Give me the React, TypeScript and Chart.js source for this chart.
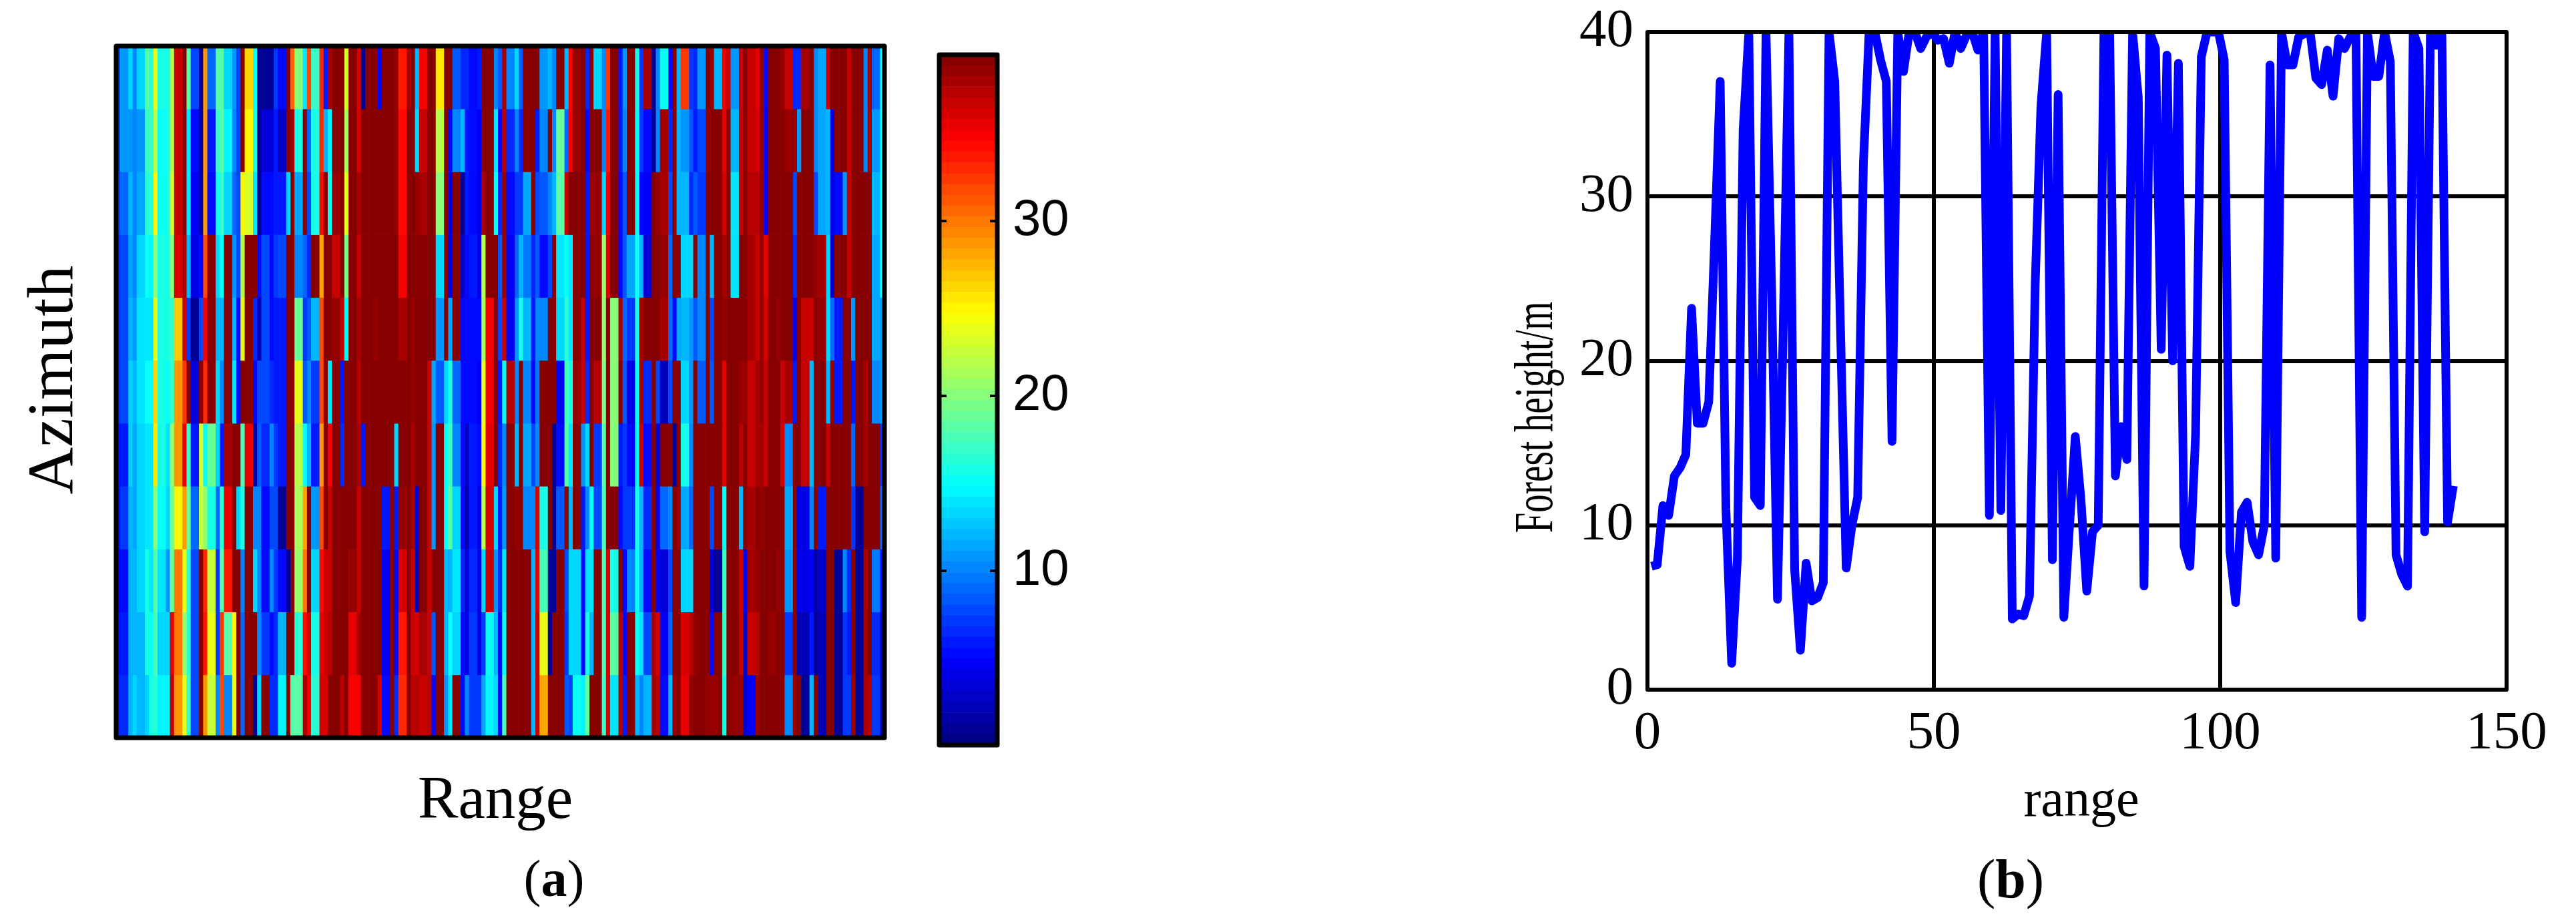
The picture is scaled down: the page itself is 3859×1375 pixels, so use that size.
import React, { useEffect, useRef } from 'react';
import { Chart, registerables } from 'chart.js';

Chart.register(...registerables);

const SERIF = '"Liberation Serif"';
const SANS = '"Liberation Sans"';

// heat values per azimuth row, 185 range cells each
const row01 = [
  8,11,11,13,10,13,13,18,16.5,24, 15.5,15.5,16,22,37,37,39,18,7.5,7.5, 1,29,9,9,18,18,13,13,11,7.5,
  39,26,26,15,1,1,1,1,7,5, 5,39,30.5,20,20,14,32,17,17,33, 6,38,39,39,39,23,39,39,36,1,
  39,39,39,5,39,39,39,38.5,33.5,33.5, 38,39,12,35,35,39,39,25.5,25.5,39, 39,8.5,8.5,6.5,6.5,5.5,5.5,6,39,39,
  39,10,8.5,38,10,10,13,8.5,39,39, 39,39,11,11,12,10,39,39,12,35, 38.5,38.5,39,6.5,39,13,13,10,32.5,39,
  39,6,11,39,39,15.5,7,38,38,1, 10,15,15,5,39,12,32.5,32.5,7,6.5, 11,11,39,38.5,12,12,35.5,37,11,11,
  37,39,36.5,36.5,35.5,38.5,5,39,39,39, 38.5,37,37,6.5,6.5,38,38,39,10,11.5, 11.5,37,39,39,39,39,37,39,39,39, 10,38,9,9,15,
];
const row02 = [
  8,11,11,11,10,11,11,17,17,22, 15,15,16,22,36.5,36.5,39,14,5,5, 1.5,29,6,6,17,18,14.5,14.5,10,7.5,
  39,25,25,15.5,1,3.5,3.5,3.5,6,3, 3,39,38,15.5,15.5,39,9,15.5,15.5,33, 12,14.5,39,39,39,21.5,39,39,36,39,
  39,39,39,39,39,39,39,38.7,34,34, 39,39,13.5,36.5,36.5,39,39,22,22,39, 5,10,10,12,6,5,5,4.5,39,39,
  39,14,5,37.5,6.5,6.5,10,6.5,39,39, 39,6,10,10,39,10,19,19,9,35, 38.7,38.7,39,5.5,39,39,39,10,33.5,39,
  39,6,10,39,39,15,7,5,5,1, 10,38,38,6.5,39,12,11,11,8.5,6, 8,8,38.7,39,39,39,35.5,39,12,12,
  37,39,36.5,36.5,36,38.7,4.5,39,39,39, 39,38.7,38.7,38.7,11,39,39,39,10,11.5, 11.5,12,4,39,39,39,37,39,39,39, 10,38,11,11,15,
];
const row03 = [
  8,9,9,12,10,11.5,11.5,16.5,16.5,25, 15,15,16,23,36.5,36.5,39,14,4.5,4.5, 2,29,5,5,15,17,13.5,13.5,9,7.5,
  25,23,23,14,1,5,5,5,6,6, 6,13.5,39,11.5,11.5,39,7.5,15.5,15.5,34, 39,15,38.5,38.5,39,23.5,39,39,38,39,
  39,39,39,39,39,39,39,38.7,34,34, 39,39,38.7,38,38,39,39,20,20,39, 4,39,39,0.7,6,5,5,4,38,39,
  39,15,6.5,38.7,5.5,5.5,7,7,11.5,11.5, 39,8,8.5,8.5,10,12,18,18,37,39, 39,39,39,6,38.7,38.7,38.7,13.5,35,39,
  39,5,8.5,39,39,15,5,4.5,4.5,39, 38.7,38,38,8,39,12,12,12,6.5,8.5, 7,7,39,39,39,39,36,39,14,14,
  37,39,37.5,37.5,37.5,38.7,4.5,39,39,39, 39,39,39,7.5,39,39,39,39,7.5,11.5, 11.5,12,4,5,5,11,37,39,39,39, 39,39,12,12,15,
];
const row04 = [
  7,8,8,11.5,10.5,13,13,15,14.5,20, 16,16,16,20,36,36,38,12,4,4, 5.5,32,39,39,13.5,15,39,39,11,8,
  22,39,39,39,5,7.5,7.5,5,7,7.5, 7.5,39,39,10.5,10.5,9,6.5,39,39,28, 39,39,37,37,39,19.5,39,39,37,39,
  39,39,39,39,39,39,39,39,35,35, 39,39,39,39,39,39,39,13,13,39, 4,39,39,3,5.5,6,6,4,22,39,
  39,39,8.5,38.7,4.5,4.5,9,12,9.5,9.5, 6.5,8.5,5,5,8,39,14,14,15,14, 39,39,39,6,39,38.7,38.7,20.5,36,39,
  39,5.5,8.5,11.5,11.5,15,12,3.5,3.5,39, 39,38.3,38.3,9,39,39,13,13,13,39, 10,10,39,12,39,39,38,39,14,14,
  39,39,38,38,37,38.7,35.5,39,39,39, 39,39,39,6.5,39,39,39,39,38.5,38, 38,13,3,39,39,39,37,39,39,39, 39,39,11.5,11.5,15,
];
const row05 = [
  7,7.5,7.5,12,11,14,14,14,14,23.5, 16,16,16,17,27,27,37,7,1,1, 8,35,39,39,12,12,39,39,12,5,
  23.5,39,39,6.5,2,8,8,5.5,6,6, 6,39,39,19,19,7,8.5,12,12,31.5, 39,39,38.3,38.3,37,15,39,39,37.8,39,
  39,39,38.7,39,39,39,39,39,38,38, 39,38.7,39,39,39,39,39,11,11,39, 11.5,39,39,5,5,5,5,5.5,21.5,35,
  35,39,8,36.7,4.7,4.7,11,16,12,12, 6,10,10,10,39,39,13.5,13.5,16.5,14, 39,39,37,6,39,39,39,21,39,20,
  20,38,9,7,7,15.5,38,39,39,39, 39,38,38,9,5,11.5,12,12,11,8.5, 10,10,39,8,39,39,38.5,39,39,39,
  39,39,38,38,37,38.5,36,39,39,38.7, 39,39,39,4.5,39,37,37,37,39,38.7, 38.7,13,9,6,6,39,39,11,39,39, 39,39,11.5,11.5,11,
];
const row06 = [
  7,7.5,7.5,13,12,14,14,15,15,26, 16,16,15,17,29,29,32.5,39,3.5,3.5, 39,33,39,39,13,10.5,39,39,14,5,
  39,39,39,5,7.5,7.5,7.5,6.5,6,6, 6,39,39,23.5,23.5,8.5,10,7,7,31.5, 39,14,39,39,6,39,39,39,37.5,39,
  39,39,39,39,39,39,39,39,39,39, 39,38.5,39,39,39,37,11.5,8.5,8.5,13, 15.5,9,9,5,5,5,5,4.5,24,35,
  35,39,6,15,37.5,37.5,10,39,10,10, 5.5,9.5,39,39,39,39,4.5,4.5,17.5,15.5, 38.5,38.5,37,6.5,39,37.5,37.5,19.5,39,20,
  20,39,8.5,4,4,15,38,6.5,6.5,39, 8,2.3,2.3,8,39,39,13.5,13.5,11,39, 8.5,8.5,39,8.5,39,39,35.7,39,39,39,
  38.7,38.7,37,37,38,38.7,36.5,39,39,39, 37,38,38,6,39,37,37,12,39,39, 39,12,38.5,6,6,39,39,6,39,39, 38,39,10,10,11,
];
const row07 = [
  6,6,6,13,11.5,13.5,13.5,14,14,25.5, 16,16,14,20.5,28.5,28.5,35.5,17,6,6, 23,15,19,19,13,6,38,38,39,39,
  17.5,35.5,35.5,1.5,8.5,6.5,6.5,10,7,6, 6,39,39,22,22,15,12,6,6,29, 39,35,39,39,6.5,39,39,39,38,6,
  39,39,39,39,39,39,39,13.5,39,39, 39,38,39,39,39,36.5,11,39,39,15, 17,10,10,5.5,3,6,6,5,25,35.5,
  35.5,39,6.5,10,39,39,12,39,11.5,11.5, 7.5,10,39,39,39,1,5.5,5.5,18,14, 39,39,11,13,39,7,7,18.5,39,20,
  20,6,7,5,5,15,37,5,5,39, 3.5,39,39,39,1,39,15.5,15.5,10,39, 39,39,39,39,39,39,35.5,39,39,39,
  37.5,39,37,37,38,38,36.5,39,39,39, 36,10,10,39,39,36.5,36.5,12,39,39, 39,37,39,39,39,39,39,9,39,39, 38,39,39,39,7,
];
const row08 = [
  6,7,7,12,11.5,13,13,14,14,20, 15,15,13,19.5,25,25,29,19,9,9, 22.5,21,16,16,9,16.5,35.5,35.5,39,13,
  16,39,39,10,10,5,5,7.5,8,1, 1,39,39,21.5,21.5,28,39,11,11,31.5, 39,37,39,39,39,39,39,39,37,39,
  39,39,39,39,6,6,39,6,38.5,38.5, 39,38,3.5,39,39,37,11,39,39,15, 18,13.5,13.5,5.5,2,6,6,4,22,36,
  36,13,6,11,39,39,38.5,39,10,10, 10,36,15.5,15.5,39,1,8.5,8.5,39,12, 39,39,6,10,15,8,8,17.5,39,39,
  39,5,7,7,7,16,12,6.5,6.5,39, 4,9,9,10,39,38.7,11.5,11.5,9,39, 39,39,39,8,39,39,15,39,39,39,
  12,39,38,38,39,38.5,39,39,39,39, 39,11.5,11.5,39,4,4,4,10,39,6, 6,39,39,39,39,39,39,7,1,1, 39,39,39,39,9,
];
const row09 = [
  5,5,5,12,12,13,13,16,14,18.5, 14,14,11,19,30,30,24,16.5,8,8, 39,33,22.5,22.5,7,18.5,33.5,33.5,39,39,
  10,39,39,13,10,5,5,10,7,5, 5,1,39,21,21,30,39,13.5,13.5,34.5, 37,36.5,39,39,39,39,38.5,38.5,37,39,
  39,39,39,39,4.5,4.5,39,5,36,36, 39,37,2,39,39,37,39,39,39,12, 12,14,14,6.5,3.5,6.5,6.5,4,13,36.5,
  36.5,11,6.5,14,39,39,39,39,39,39, 12,35.7,17.5,17.5,1,1,39,39,7.5,13, 13,13,5,14,14,39,39,17.5,36,15.5,
  15.5,39,5,10,10,15,12,5,5,39, 4.5,3.5,3.5,8,39,39,13,13,13,39, 39,39,39,3.5,1,1,17,39,39,39,
  37,4.5,38,38,38.5,39,39,39,39,38.7, 39,11,11,39,4,4,4,4.5,1.3,2.8, 2.8,39,39,1,1,10,6.5,39,1,1, 38,39,9.5,9.5,5,
];
const row10 = [
  6,6,6,12,12,12,12,16,15,17.5, 13.5,13.5,13,35.5,30,30,21,16.5,8,8, 39,33.5,24,24,7,32.5,18.5,18.5,25,39,
  9,39,39,39,10,7,7,5,6.5,12, 12,39,39,16.5,16.5,34,36,16,16,35.5, 37,37.5,39,39,39,39,35.5,35.5,38,39,
  39,39,39,39,4.5,4.5,39,5,33.5,33.5, 39,37,36,38,38,37,8.5,39,39,12, 15,13.5,13.5,5.5,4,7,7,4,7,15,
  15,12,5,15,39,39,39,39,39,39, 12,36.5,24,24,1,39,39,39,7,13, 13,13,5,16,12,39,39,17.5,36,18.5,
  18.5,37.5,4.5,39,39,15,14,8,8,38, 36,4.5,4.5,9,39,39,36,36,37.5,38.7, 39,39,39,5,39,39,17,39,39,39,
  37,3,37,37,37.5,39,39,38.7,38.7,39, 39,7,7,39,2.3,2.3,2.3,6,1,2, 2,39,39,1,1,7,6,39,1,1, 38,39,6.5,6.5,2,
];
const row11 = [
  6.5,6.5,6.5,12,13,12,12,13.5,15.5,16.5, 14.5,14.5,14.3,37,28.5,28.5,24,17,7.5,7.5, 39,29,22.5,22.5,10,32,10,10,23.5,39,
  9,39,39,1,13,39,39,6.5,6.5,14.3, 14.3,39,18,18,18,38,35,16.5,16.5,36, 36,39,39,39,37.5,39,35,35,35,39,
  39,39,39,36,5,5,39,6.5,33,33, 39,37.5,37.5,36.5,36.5,37.5,5,39,39,11, 14,39,39,5,10,7,7,7,11.5,14.5,
  14.5,13,5,17.5,39,39,39,39,39,39, 12,37,28,28,39,39,39,39,8.5,8, 15,15,14.3,19,39,39,39,17,36,14,
  14,37.5,6,39,39,12,10,12,12,38, 37.5,5,5,12,38.7,39,35.5,35.5,38.7,39, 39,39,38.7,38.7,38.7,39,15.5,39,38.5,38.5,
  38.5,3.5,4.5,4.5,38.5,39,39,39,39,39, 39,10,10,38.5,39,1,1,12,39,2, 2,39,39,1,1,7,7,38.5,1,1, 38,37.5,7,7,2,
];
const heatRows = [row01, row02, row03, row04, row05, row06, row07, row08, row09, row10, row11];

const colorTicks = [10, 20, 30];
const colorMin = 0.04;
const colorMax = 39.5;

// forest height along range, right panel
const forestHeight = [
  7.5,7.6,11.2,10.6,13,13.5,14.3,23.2,16.2,16.2, 17.5,27,37,11,1.6,8,34,40,11.7,11.2,
  40,24,5.5,22,40,7.3,2.4,7.7,5.4,5.6, 6.5,40,37,22,7.4,10,11.7,32,40,40,
  38.3,37,15.1,40,37.6,40,40,39,39.7,40, 39.5,39.6,38.1,40,39,39.8,40,38.9,40,10.6,
  40,10.9,40,4.3,4.6,4.5,5.7,24.7,35.5,40, 7.9,36.2,4.4,10,15.4,11.5,6,9.6,10,40,
  40,13,16,14,40,36,6.3,40,39,20.7, 38.6,20,38.1,8.7,7.5,15.5,38.5,40,40,40,
  38.3,8.4,5.3,10.8,11.4,9,8.2,10,38,8, 40,38,38,39.7,39.9,40,37.2,36.8,38.9,36.1,
  39.6,39,39.7,40,4.4,40,37.3,37.3,40,38.2, 8.2,7,6.3,40,39,9.6,40,39.2,40,10.2, 12.4,
];
const heightTicksX = [0, 50, 100, 150];
const heightTicksY = [0, 10, 20, 30, 40];

const jetChannel = (x: number) => Math.round(255 * Math.min(1, Math.max(0, 1.5 - Math.abs(x))));

const jetColor = (level: number) => {
  const t = (level + 0.5) / 64;
  return `rgb(${jetChannel(4 * t - 3)},${jetChannel(4 * t - 2)},${jetChannel(4 * t - 1)})`;
};

const valueColor = (v: number) => {
  const level = Math.floor(((v - colorMin) / (colorMax - colorMin)) * 64);
  return jetColor(Math.min(63, Math.max(0, level)));
};

// tick labels hang outside the plot, so don't let them shrink the chart area
const noLabelPadding = (s: any) => {
  s.paddingTop = 0;
  s.paddingBottom = 0;
  s.paddingLeft = 0;
  s.paddingRight = 0;
};

// black box around the plot, the library only draws the two axis sides
const framePlugin = {
  id: 'frame',
  afterDatasetsDraw(chart: any, _args: any, opts: any) {
    const { ctx, chartArea: a } = chart;
    ctx.save();
    ctx.strokeStyle = '#000';
    ctx.lineWidth = opts.width;
    ctx.lineJoin = 'round';
    ctx.strokeRect(a.left, a.top, a.right - a.left, a.bottom - a.top);
    ctx.restore();
  },
};

// the colorbar ticks point inwards on both sides
const innerTicksPlugin = {
  id: 'innerTicks',
  afterDatasetsDraw(chart: any) {
    const { ctx, chartArea: a, scales } = chart;
    ctx.save();
    ctx.strokeStyle = '#000';
    ctx.lineWidth = 4;
    colorTicks.forEach(v => {
      const y = scales.y.getPixelForValue(v);
      ctx.beginPath();
      ctx.moveTo(a.left, y);
      ctx.lineTo(a.left + 11, y);
      ctx.moveTo(a.right - 11, y);
      ctx.lineTo(a.right, y);
      ctx.stroke();
    });
    ctx.restore();
  },
};

const useChart = (makeConfig: () => any) => {
  const canvasRef = useRef<HTMLCanvasElement>(null);
  useEffect(() => {
    if (!canvasRef.current) return;
    const chart = new Chart(canvasRef.current, makeConfig());
    return () => chart.destroy();
  }, []);
  return canvasRef;
};

const heatConfig = () => ({
  type: 'bar',
  data: {
    labels: row01.map((_, i) => i + 1),
    datasets: heatRows.map(row => ({
      data: row.map(() => 1),
      backgroundColor: row.map(valueColor),
      borderWidth: 0,
      barPercentage: 1,
      categoryPercentage: 1,
    })),
  },
  options: {
    responsive: false,
    animation: false,
    devicePixelRatio: 1,
    layout: { padding: { left: 14, top: 14, right: 20, bottom: 15 } },
    plugins: { legend: { display: false }, tooltip: { enabled: false }, frame: { width: 7 } },
    scales: {
      x: { stacked: true, display: false },
      y: { stacked: true, display: false, reverse: true, min: 0, max: heatRows.length },
    },
  },
  plugins: [framePlugin],
});

const colorbarConfig = () => ({
  type: 'bar',
  data: {
    labels: ['jet'],
    datasets: Array.from({ length: 64 }, (_, level) => ({
      data: [[
        colorMin + ((colorMax - colorMin) * level) / 64,
        colorMin + ((colorMax - colorMin) * (level + 1)) / 64,
      ]],
      backgroundColor: jetColor(level),
      borderWidth: 0,
      barPercentage: 1,
      categoryPercentage: 1,
      grouped: false,
    })),
  },
  options: {
    responsive: false,
    animation: false,
    devicePixelRatio: 1,
    layout: { padding: { left: 12, top: 22, right: 0, bottom: 34 } },
    plugins: { legend: { display: false }, tooltip: { enabled: false }, frame: { width: 7 } },
    scales: {
      x: { display: false },
      y: {
        position: 'right',
        min: colorMin,
        max: colorMax,
        afterBuildTicks: (s: any) => { s.ticks = colorTicks.map(value => ({ value })); },
        afterFit: (s: any) => { s.width = 131; noLabelPadding(s); },
        grid: { display: false, drawTicks: false },
        border: { display: false },
        ticks: { color: '#000', padding: 23, font: { family: SANS, size: 76 } },
      },
    },
  },
  plugins: [framePlugin, innerTicksPlugin],
});

const lineConfig = () => ({
  type: 'line',
  data: {
    datasets: [{
      data: forestHeight.map((y, i) => ({ x: i + 0.7, y })),
      borderColor: '#0000ff',
      borderWidth: 13,
      borderJoinStyle: 'round',
      pointRadius: 0,
      tension: 0,
      clip: 0,
    }],
  },
  options: {
    responsive: false,
    animation: false,
    devicePixelRatio: 1,
    layout: { padding: { left: 0, top: 38, right: 75, bottom: 0 } },
    plugins: { legend: { display: false }, tooltip: { enabled: false }, frame: { width: 6 } },
    scales: {
      x: {
        type: 'linear',
        min: 0,
        max: 150,
        afterBuildTicks: (s: any) => { s.ticks = heightTicksX.map(value => ({ value })); },
        afterFit: (s: any) => { s.height = 117; noLabelPadding(s); },
        grid: { color: '#000', lineWidth: 6, drawTicks: false },
        border: { display: false },
        ticks: { color: '#000', padding: 18, maxRotation: 0, font: { family: SERIF, size: 81 } },
      },
      y: {
        min: 0,
        max: 40,
        afterBuildTicks: (s: any) => { s.ticks = heightTicksY.map(value => ({ value })); },
        afterFit: (s: any) => { s.width = 118; noLabelPadding(s); },
        grid: { color: '#000', lineWidth: 6, drawTicks: false },
        border: { display: false },
        ticks: { color: '#000', padding: 21, font: { family: SERIF, size: 81 } },
      },
    },
  },
  plugins: [framePlugin],
});

const Panel: React.FC<{ config: () => any; left: number; top: number; width: number; height: number }> = ({ config, left, top, width, height }) => {
  const canvasRef = useChart(config);
  return (
    <canvas
      ref={canvasRef}
      width={width}
      height={height}
      style={{ position: 'absolute', left, top, width, height }}
    />
  );
};

const Label: React.FC<{ x: number; y: number; size: number; transform?: string; children: React.ReactNode }> = ({ x, y, size, transform = '', children }) => (
  <span
    style={{
      position: 'absolute',
      left: x,
      top: y,
      fontFamily: SERIF,
      fontSize: size,
      lineHeight: 1,
      whiteSpace: 'nowrap',
      color: '#000',
      transform: `translate(-50%, -50%) ${transform}`,
    }}
  >
    {children}
  </span>
);

const App: React.FC = () => (
  <div style={{ position: 'absolute', left: 0, top: 0, width: 3859, height: 1375, background: '#fff', overflow: 'hidden' }}>
    <Panel config={heatConfig} left={160} top={55} width={1185} height={1065} />
    <Panel config={colorbarConfig} left={1395} top={60} width={230} height={1090} />
    <Panel config={lineConfig} left={2350} top={10} width={1480} height={1140} />
    <Label x={75} y={569} size={98} transform="rotate(-90deg)">Azimuth</Label>
    <Label x={742} y={1194} size={91}>Range</Label>
    <Label x={830} y={1316} size={78}>(<b>a</b>)</Label>
    <Label x={2298} y={625} size={82} transform="rotate(-90deg) scaleX(0.67)">Forest height/m</Label>
    <Label x={3118} y={1196} size={78}>range</Label>
    <Label x={3012} y={1317} size={82}>(<b>b</b>)</Label>
  </div>
);

export default App;
